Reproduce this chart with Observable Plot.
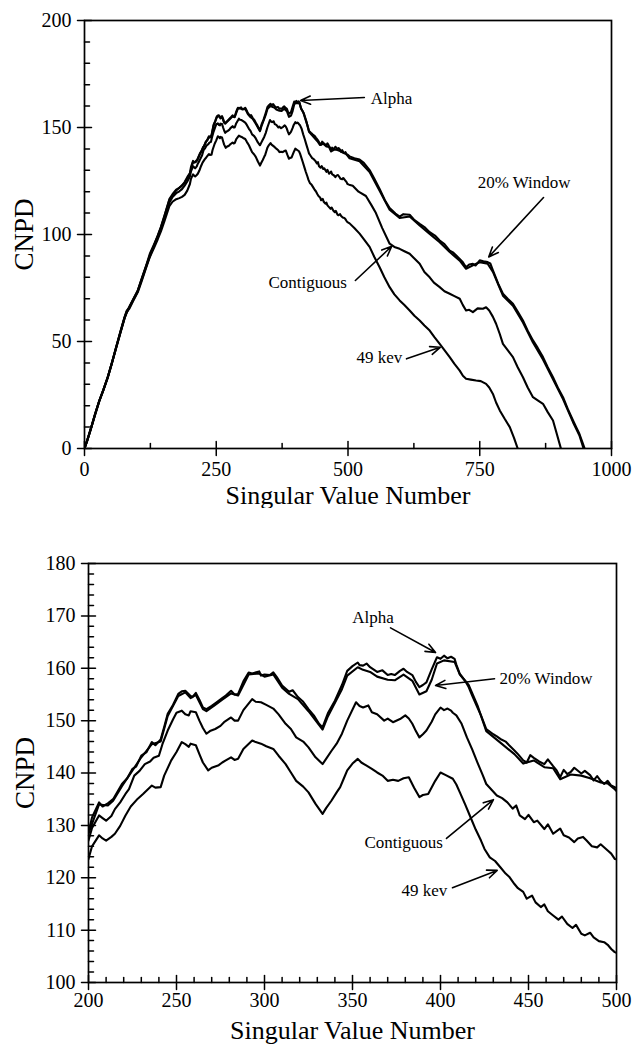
<!DOCTYPE html>
<html><head><meta charset="utf-8">
<script src="https://cdn.jsdelivr.net/npm/d3@7"></script>
<script src="https://cdn.jsdelivr.net/npm/@observablehq/plot@0.6"></script>
<style>
html,body{margin:0;padding:0;background:#fff;}
#chart svg{display:block;}
</style></head><body>
<div id="chart"></div>
<script>
// ---- Series (x = singular value number, y = CNPD) ----
const alphaX = [0,5,13,20,28,36,44,52,60,68,76,80,85,92,101,108,117,124,133,139,145,152,161,167,174,180,185,190,195,
200,202,206,208,211,214,219,222,225,227,230,233,236,238,241,243,245,248,251,253,255,258,259,261,263,265,267,270,272,276,278,281,283,285,288,291,293,297,298,300,303,305,307,310,314,316,319,322,325,328,331,333,334,336,340,344,347,350,353,354,356,358,360,364,367,370,372,374,377,379,381,384,386,388,390,392,395,398,400,402,404,406,408,409,411,414,416,418,421,423,426,430,432,434,437,439,442,444,447,449,451,453,456,459,461,464,466,468,470,472,474,476,480,482,485,487,489,491,493,495,497,499,
503,512,522,530,541,550,560,570,579,590,598,605,617,625,636,645,655,665,674,683,693,700,712,718,724,730,737,742,750,757,765,770,775,785,794,803,813,822,832,841,851,860,870,879,889,898,908,917,927,933,939,944,949];
const alphaY = [0,3.5,10,16,22.2,27.5,33.2,40,47.3,54.5,61.4,64.3,66,69.5,73.8,79,85.5,91,96,99.5,103.6,109,116.5,118.8,121,121.8,122.8,124.5,126.8,
128.7,131.5,134.4,133.6,134.2,135,137.9,139,140.8,141.2,143.3,144,145.9,145.3,146.4,148.8,151.3,153,155.1,155.6,155.7,154.7,154.5,155.3,154,152.5,152.2,152.8,153.3,154.3,154.8,155.7,155,155.1,157.5,159.2,159,159.4,158.6,158.8,158.7,159.2,158.3,156.7,155.5,155.8,154.5,153.6,152.2,151,149.4,148.7,149.6,151.4,153.8,156.8,159.5,160.4,161.1,160.6,160.5,160.9,160.2,159.3,159.6,158.7,158.9,158.7,159.5,159.9,159.3,158.7,157.4,156.4,156.8,157.3,159.8,162.1,161.8,162.4,161.9,162.2,161.8,160.7,158.9,157.6,156.4,154.8,152.5,151,148.4,147.4,147,146.5,146,145.3,144.3,143.6,142.4,142,143.4,142.9,142.2,141.7,142.6,141.3,140.5,139.2,140.6,139.8,140.2,141,139.9,140.4,139.6,138.6,139.4,138.5,137.9,138.5,137.6,137.3,
136.5,135.6,135,133.5,130.1,126,121.3,116,112.4,109.8,108.4,109.5,109.2,107,105,103.5,101.1,99.5,97.2,95.5,92.5,91.5,88.6,87,84.7,86,86.3,85.5,87.9,87.5,87.1,86.5,83.2,77,72.3,70,67.6,64,59.8,55,50.5,47,42.7,38,33.3,28.5,24,18.5,13.1,10,6.9,3.5,0];

const windowX = [0,13,28,44,60,76,85,101,117,133,145,161,174,190,200,206,211,214,219,225,230,236,241,245,251,255,258,261,265,267,272,276,281,285,291,297,300,305,310,314,319,325,333,336,344,347,353,356,360,364,370,374,379,384,388,392,395,398,402,408,411,416,421,426,434,442,447,453,459,464,468,474,480,485,491,495,499,503,522,541,560,579,598,617,636,655,674,693,712,724,737,750,765,775,794,813,832,851,870,889,908,927,939,947];
const windowY = [0,10,22,33,47,61,66.2,73.5,85.2,95.6,103.2,116.1,120.6,124.1,128.4,134,133.8,134.7,137.5,140.5,143,145.5,146,150.9,154.7,155.4,154.3,154.9,152.2,151.8,153,154,155.2,154.8,158.8,159,158.4,158.8,156.3,155.1,154.1,151.8,148.3,150.8,156,158.6,160.2,159.7,159.3,158.4,157.8,157.7,158.8,157.6,155,155.6,157.8,160.9,161.5,161.2,158.8,156.8,152.9,148,145.8,143.6,141.8,142.4,141.1,140.9,138.8,139.7,139.5,139,138.2,138,136.9,135.6,134.2,129.2,120.5,111.6,107.7,108.4,104.2,100.3,96.4,91.8,87.8,84,85.6,87,86.4,82.5,71.4,66.7,58.9,49.5,41.6,32.4,23.1,12.3,6.2,0];

const contigX = [0,5,13,20,28,36,44,52,60,68,76,80,85,92,101,108,117,124,133,139,145,152,161,167,174,180,185,190,195,
200,202,206,208,210,213,215,218,221,223,226,229,232,235,237,240,242,245,248,250,253,255,257,258,261,263,265,267,269,272,275,277,281,283,285,288,293,295,298,301,305,308,312,315,318,322,325,329,333,335,338,341,344,347,352,354,356,359,361,364,368,370,373,377,380,382,384,386,388,390,392,395,397,400,402,404,406,407,409,412,415,418,421,424,426,429,432,435,438,441,443,445,448,450,453,455,459,461,464,466,468,470,473,476,478,481,483,486,489,491,495,497,499,
502,509,520,534,545,553,565,579,588,598,607,617,625,636,645,655,663,674,683,693,702,712,718,724,730,737,746,756,762,768,775,781,788,794,803,813,822,832,841,851,860,870,879,889,896,904];
const contigY = [0,3.5,10,16,22.3,27.5,33.3,40,47.3,54.3,61.2,64,65.8,69.2,73.5,78.6,85,90.3,95.2,98.6,102.5,107.8,114.8,117.5,119.3,120.2,121.2,122.8,124.8,
127.1,129.5,131.9,131.4,130.9,131.8,133.1,134.4,136,136.9,139.5,140.4,141.7,142.2,142.9,143.3,145.5,148.1,150.2,151.5,151.9,151.2,151,151.8,151.6,150,148.6,147.5,148,148.4,149,149.7,150.6,150,150,152,154.1,153.6,153.5,153,152.3,151.2,149.4,148.4,146.8,146,144.9,143,141.7,142.7,144.2,145.6,147.5,150,153.5,152.8,152.5,152.9,151.6,151.2,150,150.4,149.7,150.3,151,150.4,149.4,148,146.8,147.4,148.1,149.8,151.2,152.5,152,152.3,151.9,151.5,151,149.4,146.8,144.5,142,139.6,137.9,136.8,135.7,135.2,134.4,133.2,133.8,131.9,131.2,132,130.6,130.9,129.3,130.2,128.4,128.9,129.4,128.1,127.7,126.8,127.5,127.8,127.1,126,125.8,126.4,125.2,124.6,123.6,
123.3,122.8,120,118,113.5,110,103,95.7,94.2,93.3,92.2,91,89,86.3,82.5,80,77.5,75.4,73.5,72.3,71.2,70,67,64.5,64.8,63.7,65.5,65.3,66,64.5,61.5,58.3,53.5,48.9,46,42.7,38,33.3,28.5,24,22.5,20.9,17,13.1,7,0];

const kevX = [0,5,13,20,28,36,44,52,60,68,76,80,85,92,101,108,117,124,133,139,145,152,161,167,174,180,185,190,195,
200,202,206,208,210,213,215,218,221,224,228,231,236,238,241,243,247,250,253,255,257,258,261,263,265,268,270,274,276,278,281,283,285,288,293,295,298,301,305,308,312,315,318,322,325,329,333,335,338,341,343,345,347,350,353,355,358,361,364,367,370,373,376,379,382,385,388,390,393,397,400,403,407,409,411,414,417,420,423,425,428,431,434,437,439,442,444,447,449,452,454,457,459,461,464,467,469,472,475,477,480,482,485,487,490,493,495,497,499,
503,512,522,531,541,550,560,569,579,588,598,607,617,626,636,645,655,664,674,683,693,702,712,718,724,733,743,752,762,768,775,781,788,797,807,815,822];
const kevY = [0,3.5,10,16,22.3,27.4,33.2,39.8,47,54,60.8,63.6,65.3,68.8,73,77.8,84.5,89.5,94.4,97.8,101.5,106.5,113.2,115.3,116.5,117,117.6,118.5,120.5,
123.6,126,128.1,127.5,127.1,127.8,128.4,129.9,131.9,133.6,135.1,136,137.6,137.2,137.3,139.5,142.4,144,145.9,145.5,145,145.6,145.3,143.6,142,140.5,141,141.5,142,142.4,143,142.5,142.7,144.6,146.2,145.9,145.6,145.1,144.6,143.3,141.7,140.1,138.5,137.4,136.3,134.1,132.2,133.3,134.7,136.3,137.3,138.9,140.5,141.8,142.7,142,141.4,140.8,140.1,139.5,138.5,138.7,138.5,139,139.2,137.2,135.4,135.8,136,138.5,140.1,139.6,138.9,137.8,136.3,134,131.6,129.2,127.1,125.5,123.9,123.2,122,120.8,120.2,118.8,118,117.3,116,116.6,115.3,114.4,114.9,113.6,112.8,112,112.6,111.2,110.4,111,109.3,109,109.5,108.6,107.9,107.7,107.2,106.4,105.8,
105.2,103,100.4,97.5,94.2,89.5,84.7,80,75.4,72,69.2,67,64.5,62,59.8,57.5,55.1,52,48.9,46,42.7,39.5,36.4,34,32.6,32.2,31.8,31.5,30.2,28.5,25.5,21.5,17.8,14,10,5,0];

// ---- Axis ticks ----
const topXMajor = [0,250,500,750,1000];
const topXMinor = [125,375,625,875];
const topYMajor = [0,50,100,150,200];
const topYMinor = [10,20,30,40,60,70,80,90,110,120,130,140,160,170,180,190];
const botXMajor = [200,250,300,350,400,450,500];
const botXMinor = [210,220,230,240,260,270,280,290,310,320,330,340,360,370,380,390,410,420,430,440,460,470,480,490];
const botYMajor = [100,110,120,130,140,150,160,170,180];
const botYMinor = [102,104,106,108,112,114,116,118,122,124,126,128,132,134,136,138,142,144,146,148,152,154,156,158,162,164,166,168,172,174,176,178];

// ---- Annotations (data units) ----
const annLabels = ["Alpha","20% Window","Contiguous","49 kev"];
const topTextX = [543,746,349,516];
const topTextY = [163.6,124.3,77.6,42.4];
const topArrowX1 = [531,871,514,611];
const topArrowY1 = [164,117.3,78.5,41.9];
const topArrowX2 = [410,767,583,675];
const topArrowY2 = [162.6,89.5,94.5,47.3];
const botTextX = [349.8,433.5,356.8,377.8];
const botTextY = [169.7,158.1,126.8,117.6];
const botArrowX1 = [371.6,430.7,403.4,406.8];
const botArrowY1 = [167.7,158,127.5,118.1];
const botArrowX2 = [397.2,397.2,430.1,432.2];
const botArrowY2 = [163,156.7,134.9,121.4];

// ---- Build tables ----
function rows(name, xs, ys) {
  const n = Math.min(xs.length, ys.length);
  const out = [];
  for (let i = 0; i < n; i++) out.push({series: name, x: xs[i], y: ys[i]});
  return out;
}
const data = [
  ...rows("Alpha", alphaX, alphaY),
  ...rows("20% Window", windowX, windowY),
  ...rows("Contiguous", contigX, contigY),
  ...rows("49 kev", kevX, kevY)
];
function ann(tx, ty, x1, y1, x2, y2) {
  return annLabels.map((label, i) => ({label, tx: tx[i], ty: ty[i], x1: x1[i], y1: y1[i], x2: x2[i], y2: y2[i]}));
}
const topAnn = ann(topTextX, topTextY, topArrowX1, topArrowY1, topArrowX2, topArrowY2);
const botAnn = ann(botTextX, botTextY, botArrowX1, botArrowY1, botArrowX2, botArrowY2);

const FONT = "'Liberation Serif','Times New Roman',Times,serif";
const tickShape = {draw(ctx, l) { ctx.moveTo(0, 0); ctx.lineTo(0, -l); }};
const V = (d, o) => Plot.vector(d, {shape: tickShape, anchor: "start", stroke: "black", strokeWidth: 1.5, ...o});

function chart(cfg) {
  return Plot.plot({
    width: 641, height: cfg.height,
    marginTop: cfg.mt, marginBottom: cfg.mb, marginLeft: cfg.ml, marginRight: cfg.mr,
    x: {domain: cfg.xDomain},
    y: {domain: cfg.yDomain},
    style: {fontFamily: FONT, fontSize: "20px", color: "black", background: "white"},
    marks: [
      Plot.line(cfg.data, {x: "x", y: "y", z: "series", stroke: "black", strokeWidth: 2.1, strokeLinejoin: "round", clip: true}),
      Plot.frame({stroke: "black", strokeWidth: 1.7}),
      V(cfg.yMajor, {y: d => d, frameAnchor: "left", rotate: -90, length: 7}),
      V(cfg.yMajor, {y: d => d, frameAnchor: "left", rotate: 90, length: 7}),
      V(cfg.yMinor, {y: d => d, frameAnchor: "left", rotate: 90, length: 5}),
      V(cfg.xMajor, {x: d => d, frameAnchor: "bottom", rotate: 180, length: 7}),
      V(cfg.xMajor, {x: d => d, frameAnchor: "bottom", rotate: 0, length: 7}),
      V(cfg.xMinor, {x: d => d, frameAnchor: "bottom", rotate: 0, length: 5}),
      Plot.axisY({ticks: cfg.yMajor, tickSize: 0, tickPadding: 13, tickFormat: String, fontSize: 20, label: null}),
      Plot.axisX({ticks: cfg.xMajor, tickSize: 0, tickPadding: cfg.xPad, tickFormat: String, fontSize: 20, label: null}),
      Plot.text(["CNPD"], {frameAnchor: "left", textAnchor: "middle", lineAnchor: "middle", rotate: -90, dx: cfg.yLabelDx, fontSize: 27}),
      Plot.text(["Singular Value Number"], {frameAnchor: "bottom", dy: cfg.xLabelDy, fontSize: 26}),
      Plot.text(cfg.ann, {x: "tx", y: "ty", text: "label", textAnchor: "start", fontSize: 17}),
      Plot.arrow(cfg.ann, {x1: "x1", y1: "y1", x2: "x2", y2: "y2", stroke: "black", strokeWidth: 1.6, headLength: 10, headAngle: 45})
    ]
  });
}

const topChart = chart({
  height: 508, mt: 20, mb: 60, ml: 84, mr: 30,
  xDomain: [0, 1000], yDomain: [0, 200],
  data, ann: topAnn,
  xMajor: topXMajor, xMinor: topXMinor, yMajor: topYMajor, yMinor: topYMinor,
  xPad: 13, yLabelDx: -60, xLabelDy: 55
});
const botChart = chart({
  height: 542, mt: 55, mb: 68, ml: 88, mr: 25,
  xDomain: [200, 500], yDomain: [100, 180],
  data: data.filter(d => d.x >= 190 && d.x <= 510), ann: botAnn,
  xMajor: botXMajor, xMinor: botXMinor, yMajor: botYMajor, yMinor: botYMinor,
  xPad: 10, yLabelDx: -63, xLabelDy: 56
});
document.getElementById("chart").append(topChart, botChart);
</script>
</body></html>
